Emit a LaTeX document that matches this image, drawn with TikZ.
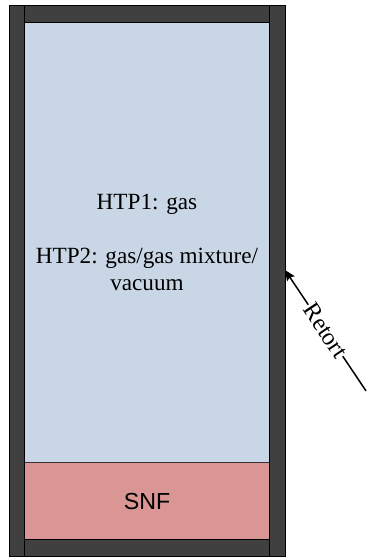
\documentclass[tikz,border=0pt]{standalone}
\usepackage{fontspec}
\setmainfont{Liberation Serif}
\newfontfamily\snffont{Liberation Sans}
\usepackage{tikz}
\usetikzlibrary{calc,arrows.meta}
\definecolor{wallgray}{HTML}{404040}
\definecolor{gasblue}{HTML}{C9D6E5}
\definecolor{snfpink}{HTML}{D99694}

\begin{document}
\begin{tikzpicture}[
		wall/.style={fill=wallgray, draw=black, line width=0.3mm},
		label/.style={font=\fontsize{22}{25.6}\selectfont, align=center}
	]
			%%%%% START %%%%%
			
			\useasboundingbox (0, 0) rectangle (12.2, 18.6);
			
			\draw[fill=gasblue, draw=black!70, line width=0.3mm] (0.83, 3.18) rectangle (8.98, 17.84);
			\draw[fill=snfpink, draw=black!80, line width=0.3mm] (0.83, 0.62) rectangle (8.98, 3.18);
			
			\draw[wall] (0.31, 0.04) rectangle (0.83, 18.41);
			\draw[wall] (8.98, 0.04) rectangle (9.5, 18.41);
			\draw[wall] (0.83, 17.84) rectangle (8.98, 18.41);
			\draw[wall] (0.83, 0.04) rectangle (8.98, 0.62);
			
			\node[label] (gas) at (4.9, 10.51) {HTP1: gas\\[25.6pt]HTP2: gas/gas mixture/\\vacuum};
			\node[label, font=\snffont\fontsize{22}{25.6}\selectfont] (snf) at (4.9, 1.88) {SNF};
			
			\coordinate (walltip) at (9.5, 9.6);
			\coordinate (retortend) at (12.2, 5.57);
			\draw[line width=0.5mm, -{Stealth[length=3.5mm, width=3mm, inset=0.6mm]}] (retortend) -- node[label, sloped, fill=white, inner sep=0.5pt, font=\fontsize{23}{26}\selectfont] (retort) {Retort} (walltip);
			
			%%%%% END %%%%%
\end{tikzpicture}
\end{document}
